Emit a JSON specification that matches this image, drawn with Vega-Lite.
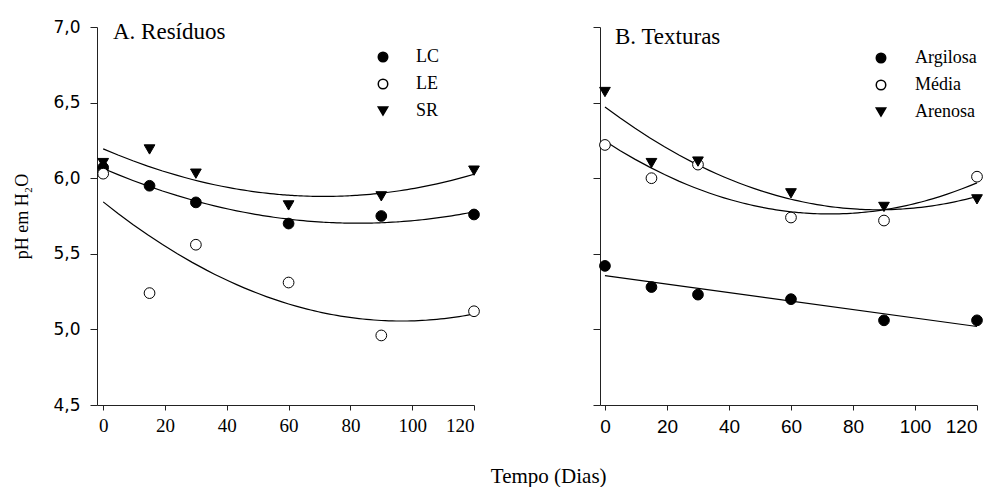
{
  "$schema": "https://vega.github.io/schema/vega-lite/v6.json",
  "background": "white",
  "autosize": {"type": "pad"},
  "padding": {"left": 13, "top": 18, "right": 0, "bottom": 0},
  "datasets": {
    "pts": [
      {"panel": "A", "series": "LC", "x": 0, "y": 6.07},
      {"panel": "A", "series": "LC", "x": 15, "y": 5.95},
      {"panel": "A", "series": "LC", "x": 30, "y": 5.84},
      {"panel": "A", "series": "LC", "x": 60, "y": 5.70},
      {"panel": "A", "series": "LC", "x": 90, "y": 5.75},
      {"panel": "A", "series": "LC", "x": 120, "y": 5.76},
      {"panel": "A", "series": "LE", "x": 0, "y": 6.03},
      {"panel": "A", "series": "LE", "x": 15, "y": 5.24},
      {"panel": "A", "series": "LE", "x": 30, "y": 5.56},
      {"panel": "A", "series": "LE", "x": 60, "y": 5.31},
      {"panel": "A", "series": "LE", "x": 90, "y": 4.96},
      {"panel": "A", "series": "LE", "x": 120, "y": 5.12},
      {"panel": "A", "series": "SR", "x": 0, "y": 6.10},
      {"panel": "A", "series": "SR", "x": 15, "y": 6.19},
      {"panel": "A", "series": "SR", "x": 30, "y": 6.03},
      {"panel": "A", "series": "SR", "x": 60, "y": 5.82},
      {"panel": "A", "series": "SR", "x": 90, "y": 5.88},
      {"panel": "A", "series": "SR", "x": 120, "y": 6.05},
      {"panel": "B", "series": "Argilosa", "x": 0, "y": 5.42},
      {"panel": "B", "series": "Argilosa", "x": 15, "y": 5.28},
      {"panel": "B", "series": "Argilosa", "x": 30, "y": 5.23},
      {"panel": "B", "series": "Argilosa", "x": 60, "y": 5.20},
      {"panel": "B", "series": "Argilosa", "x": 90, "y": 5.06},
      {"panel": "B", "series": "Argilosa", "x": 120, "y": 5.06},
      {"panel": "B", "series": "Média", "x": 0, "y": 6.22},
      {"panel": "B", "series": "Média", "x": 15, "y": 6.00},
      {"panel": "B", "series": "Média", "x": 30, "y": 6.09},
      {"panel": "B", "series": "Média", "x": 60, "y": 5.74},
      {"panel": "B", "series": "Média", "x": 90, "y": 5.72},
      {"panel": "B", "series": "Média", "x": 120, "y": 6.01},
      {"panel": "B", "series": "Arenosa", "x": 0, "y": 6.57},
      {"panel": "B", "series": "Arenosa", "x": 15, "y": 6.10},
      {"panel": "B", "series": "Arenosa", "x": 30, "y": 6.11},
      {"panel": "B", "series": "Arenosa", "x": 60, "y": 5.90},
      {"panel": "B", "series": "Arenosa", "x": 90, "y": 5.81},
      {"panel": "B", "series": "Arenosa", "x": 120, "y": 5.86}
    ]
  },
  "title": {"text": "Tempo (Dias)", "orient": "bottom", "anchor": "middle", "font": "Liberation Serif", "fontSize": 21, "fontWeight": "normal", "color": "black", "offset": 30, "dx": 50},
  "spacing": 110,
  "config": {
    "view": {"stroke": null},
    "axis": {"domainColor": "#222222", "tickColor": "#222222", "grid": false, "labelColor": "black", "titleColor": "black", "domainWidth": 1, "tickWidth": 1}
  },
  "resolve": {
    "scale": {"x": "independent", "y": "independent", "shape": "independent", "fill": "independent"},
    "legend": {"shape": "independent", "fill": "independent"}
  },
  "hconcat": [
    {
      "width": 377,
      "height": 378,
      "title": {"text": "A. Resíduos", "anchor": "start", "frame": "group", "dx": 16, "dy": 30, "font": "Liberation Serif", "fontSize": 23, "fontWeight": "normal", "color": "black"},
      "data": {"name": "pts"},
      "transform": [{"filter": "datum.panel == 'A'"}],
      "layer": [
        {
          "transform": [{"regression": "y", "on": "x", "groupby": ["series"], "method": "poly", "order": 2, "extent": [0, 120]}],
          "mark": {"type": "line", "color": "black", "strokeWidth": 1.2},
          "encoding": {
            "x": {"field": "x", "type": "quantitative", "scale": {"domain": [-2, 120], "nice": false, "zero": false},
              "axis": {"values": [0, 20, 40, 60, 80, 100, 120], "labelFont": "Liberation Serif", "labelFontSize": 19, "tickSize": 5, "labelPadding": 6, "title": null}},
            "y": {"field": "y", "type": "quantitative", "scale": {"domain": [4.5, 7], "nice": false, "zero": false},
              "axis": {"values": [4.5, 5, 5.5, 6, 6.5, 7], "labelExpr": "replace(format(datum.value, '.1f'), '.', ',')", "labelFont": "DejaVu Sans", "labelFontSize": 17, "tickSize": 7, "labelPadding": 10,
                "title": "pH em H₂O", "titleFont": "Liberation Serif", "titleFontSize": 18, "titleFontWeight": "normal", "titleX": -75, "titleY": 189, "titleAngle": 270, "titleAlign": "center", "titleBaseline": "middle"}},
            "detail": {"field": "series"}
          }
        },
        {
          "mark": {"type": "point", "filled": true, "stroke": "black", "strokeWidth": 1, "size": 115, "opacity": 1},
          "encoding": {
            "x": {"field": "x", "type": "quantitative"},
            "y": {"field": "y", "type": "quantitative"},
            "shape": {"field": "series", "type": "nominal", "scale": {"domain": ["LC", "LE", "SR"], "range": ["circle", "circle", "triangle-down"]},
              "legend": {"orient": "none", "legendX": 277, "legendY": 21, "title": null, "labelFont": "Liberation Serif", "labelFontSize": 18, "labelColor": "black", "symbolSize": 90, "labelOffset": 24, "rowPadding": 9,
                "encode": {"symbols": {"update": {"stroke": {"value": "black"}, "strokeWidth": {"value": 1}}}}}},
            "fill": {"field": "series", "type": "nominal", "scale": {"domain": ["LC", "LE", "SR"], "range": ["black", "white", "black"]},
              "legend": {"orient": "none", "legendX": 277, "legendY": 21, "title": null, "labelFont": "Liberation Serif", "labelFontSize": 18, "labelColor": "black", "symbolSize": 90, "labelOffset": 24, "rowPadding": 9,
                "encode": {"symbols": {"update": {"stroke": {"value": "black"}, "strokeWidth": {"value": 1}}}}}}
          }
        }
      ]
    },
    {
      "width": 377,
      "height": 378,
      "title": {"text": "B. Texturas", "anchor": "start", "frame": "group", "dx": 15, "dy": 26, "font": "Liberation Serif", "fontSize": 23, "fontWeight": "normal", "color": "black"},
      "data": {"name": "pts"},
      "transform": [{"filter": "datum.panel == 'B'"}],
      "layer": [
        {
          "transform": [{"filter": "datum.series != 'Argilosa'"}, {"regression": "y", "on": "x", "groupby": ["series"], "method": "poly", "order": 2, "extent": [0, 120]}],
          "mark": {"type": "line", "color": "black", "strokeWidth": 1.2},
          "encoding": {
            "x": {"field": "x", "type": "quantitative", "scale": {"domain": [-1.6, 120], "nice": false, "zero": false},
              "axis": {"values": [0, 20, 40, 60, 80, 100, 120], "labelFont": "Liberation Sans", "labelFontSize": 19, "tickSize": 5, "labelPadding": 7, "title": null}},
            "y": {"field": "y", "type": "quantitative", "scale": {"domain": [4.5, 7], "nice": false, "zero": false},
              "axis": {"values": [4.5, 5, 5.5, 6, 6.5, 7], "labels": false, "tickSize": 7, "title": null}},
            "detail": {"field": "series"}
          }
        },
        {
          "transform": [{"filter": "datum.series == 'Argilosa'"}, {"regression": "y", "on": "x", "method": "linear", "extent": [0, 120]}],
          "mark": {"type": "line", "color": "black", "strokeWidth": 1.2},
          "encoding": {
            "x": {"field": "x", "type": "quantitative"},
            "y": {"field": "y", "type": "quantitative"}
          }
        },
        {
          "mark": {"type": "point", "filled": true, "stroke": "black", "strokeWidth": 1, "size": 115, "opacity": 1},
          "encoding": {
            "x": {"field": "x", "type": "quantitative"},
            "y": {"field": "y", "type": "quantitative"},
            "shape": {"field": "series", "type": "nominal", "scale": {"domain": ["Argilosa", "Média", "Arenosa"], "range": ["circle", "circle", "triangle-down"]},
              "legend": {"orient": "none", "legendX": 272, "legendY": 22, "title": null, "labelFont": "Liberation Serif", "labelFontSize": 18, "labelColor": "black", "symbolSize": 90, "labelOffset": 25, "rowPadding": 9,
                "encode": {"symbols": {"update": {"stroke": {"value": "black"}, "strokeWidth": {"value": 1}}}}}},
            "fill": {"field": "series", "type": "nominal", "scale": {"domain": ["Argilosa", "Média", "Arenosa"], "range": ["black", "white", "black"]},
              "legend": {"orient": "none", "legendX": 272, "legendY": 22, "title": null, "labelFont": "Liberation Serif", "labelFontSize": 18, "labelColor": "black", "symbolSize": 90, "labelOffset": 25, "rowPadding": 9,
                "encode": {"symbols": {"update": {"stroke": {"value": "black"}, "strokeWidth": {"value": 1}}}}}}
          }
        }
      ]
    }
  ]
}
